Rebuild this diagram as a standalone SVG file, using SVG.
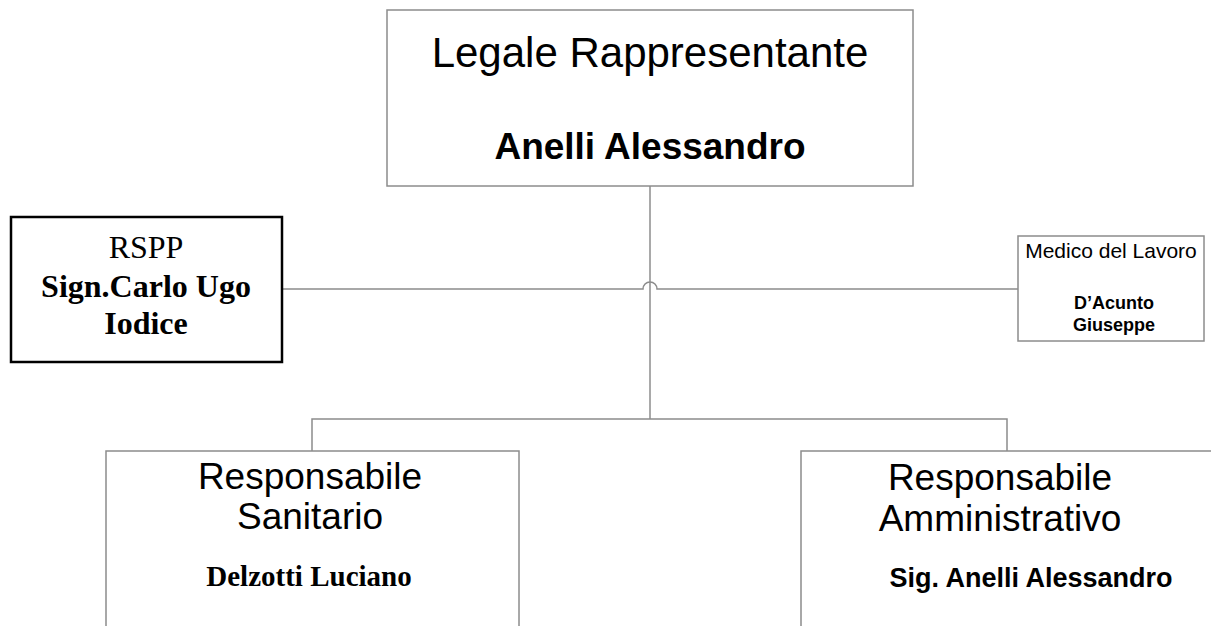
<svg xmlns="http://www.w3.org/2000/svg" width="1211" height="626" viewBox="0 0 1211 626">
<style>
.box{fill:#fff;stroke:#8c8c8c;stroke-width:1.5}
.bold-box{fill:#fff;stroke:#000;stroke-width:2.5}
.conn{fill:none;stroke:#8c8c8c;stroke-width:1.5}
.sans{font-family:"Liberation Sans",Arial,sans-serif;fill:#000;text-anchor:middle}
.serif{font-family:"Liberation Serif","Times New Roman",serif;fill:#000;text-anchor:middle}
.b{font-weight:bold}
</style>
<rect width="1211" height="626" fill="#fff"/>
<g id="connectors">
<line class="conn" x1="650" y1="186" x2="650" y2="419"/>
<path class="conn" d="M282,289 H643 A7,7 0 0 1 657,289 H1018"/>
<path class="conn" d="M312,451 V419 H1007 V451"/>
</g>
<g id="legale">
<rect class="box" x="387" y="10" width="526" height="176"/>
<text class="sans" x="650" y="67" font-size="42">Legale Rappresentante</text>
<text class="sans b" x="650" y="159" font-size="37">Anelli Alessandro</text>
</g>
<g id="rspp">
<rect class="bold-box" x="11" y="217" width="271" height="145"/>
<text class="serif" x="146" y="258" font-size="32">RSPP</text>
<text class="serif b" x="146" y="297" font-size="32">Sign.Carlo Ugo</text>
<text class="serif b" x="146" y="334" font-size="32">Iodice</text>
</g>
<g id="medico">
<rect class="box" x="1018" y="236" width="186" height="105"/>
<text class="sans" x="1111" y="258" font-size="21">Medico del Lavoro</text>
<text class="sans b" x="1114" y="309" font-size="18">D’Acunto</text>
<text class="sans b" x="1114" y="331" font-size="18">Giuseppe</text>
</g>
<g id="sanitario">
<rect class="box" x="106" y="451" width="413" height="190"/>
<text class="sans" x="310" y="489" font-size="37">Responsabile</text>
<text class="sans" x="310" y="529" font-size="37">Sanitario</text>
<text class="serif b" x="309" y="586" font-size="29">Delzotti Luciano</text>
</g>
<g id="amministrativo">
<rect class="box" x="801" y="451" width="420" height="190"/>
<text class="sans" x="1000" y="490" font-size="37">Responsabile</text>
<text class="sans" x="1000" y="531" font-size="37">Amministrativo</text>
<text class="sans b" x="1031" y="587" font-size="27">Sig. Anelli Alessandro</text>
</g>
</svg>
